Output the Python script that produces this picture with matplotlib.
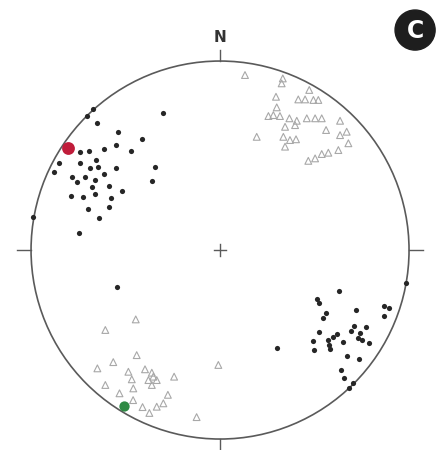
import numpy as np
import matplotlib.pyplot as plt
from matplotlib.patches import Circle

# projected positions on the net (unit radius), lower hemisphere
poles_x = [-0.705, -0.670, -0.303, -0.649, -0.541, -0.411, -0.612, -0.552, -0.471, -0.741,
           -0.693, -0.656, -0.852, -0.741, -0.688, -0.644, -0.552, -0.877, -0.344, -0.785,
           -0.714, -0.661, -0.612, -0.758, -0.679, -0.587, -0.517, -0.360, -0.790, -0.723,
           -0.661, -0.577, -0.697, -0.587, -0.640, -0.746, -0.989, -0.547,
           0.630, 0.512, 0.525, 0.720, 0.868, 0.896, 0.868, 0.561, 0.547, 0.709,
           0.692, 0.772, 0.525, 0.617, 0.599, 0.741, 0.729, 0.750, 0.490, 0.573,
           0.578, 0.649, 0.790, 0.499, 0.582, 0.670, 0.735, 0.640, 0.658, 0.705,
           0.683, 0.984, 0.300]
poles_y = [0.711, 0.744, 0.723, 0.674, 0.624, 0.586, 0.533, 0.556, 0.522, 0.517,
           0.524, 0.476, 0.459, 0.459, 0.432, 0.441, 0.432, 0.414, 0.438, 0.385,
           0.385, 0.370, 0.401, 0.361, 0.332, 0.340, 0.312, 0.365, 0.287, 0.282,
           0.295, 0.274, 0.215, 0.226, 0.171, 0.092, 0.175, -0.197,
           -0.217, -0.261, -0.279, -0.317, -0.296, -0.308, -0.349, -0.335, -0.361, -0.402,
           -0.429, -0.406, -0.432, -0.446, -0.459, -0.438, -0.467, -0.476, -0.481, -0.476,
           -0.503, -0.485, -0.490, -0.529, -0.525, -0.561, -0.577, -0.635, -0.679, -0.705,
           -0.732, -0.176, -0.520]

lin_x = [0.132, 0.194, 0.332, 0.326, 0.472, 0.296, 0.414, 0.450, 0.494, 0.520,
         0.300, 0.256, 0.282, 0.317, 0.367, 0.406, 0.459, 0.503, 0.538, 0.635,
         0.344, 0.397, 0.561, 0.670, 0.635, 0.335, 0.370, 0.402, 0.344, 0.679,
         0.626, 0.467, 0.503, 0.538, 0.573,
         -0.446, -0.607, -0.441, -0.565, -0.649, -0.009, -0.485, -0.467, -0.397, -0.361,
         -0.353, -0.335, -0.379, -0.361, -0.243, -0.607, -0.459, -0.532, -0.276, -0.460,
         -0.300, -0.335, -0.410, -0.374, -0.124]
lin_y = [0.926, 0.599, 0.908, 0.882, 0.847, 0.811, 0.797, 0.797, 0.794, 0.794,
         0.755, 0.709, 0.714, 0.709, 0.697, 0.684, 0.697, 0.697, 0.697, 0.684,
         0.652, 0.661, 0.635, 0.626, 0.608, 0.599, 0.582, 0.586, 0.547, 0.565,
         0.529, 0.472, 0.485, 0.508, 0.515,
         -0.367, -0.423, -0.556, -0.593, -0.626, -0.608, -0.644, -0.684, -0.631, -0.649,
         -0.670, -0.688, -0.688, -0.714, -0.670, -0.714, -0.732, -0.758, -0.766, -0.794,
         -0.811, -0.829, -0.831, -0.862, -0.884]

mean_red = (-0.803, 0.541)
mean_green = (-0.508, -0.825)

fig = plt.figure(figsize=(4.45, 4.5), dpi=100)
ax = fig.add_axes([0, 0, 1, 1])
ax.set_xlim(-1.164, 1.190)
ax.set_ylim(-1.058, 1.323)
ax.set_aspect('equal')
ax.axis('off')

net_col = '#5a5a5a'
ax.add_patch(Circle((0, 0), 1.0, fill=False, ec=net_col, lw=1.2, zorder=1))
# N/E/S/W ticks and centre cross
ax.plot([0, 0], [1.0, 1.06], color=net_col, lw=1.0)
ax.plot([0, 0], [-1.0, -1.07], color=net_col, lw=1.0)
ax.plot([-1.0, -1.075], [0, 0], color=net_col, lw=1.0)
ax.plot([1.0, 1.075], [0, 0], color=net_col, lw=1.0)
ax.plot([-0.032, 0.032], [0, 0], color=net_col, lw=1.0)
ax.plot([0, 0], [-0.032, 0.032], color=net_col, lw=1.0)
ax.text(0, 1.125, 'N', ha='center', va='center', fontsize=11, fontweight='bold', color='#333333')

ax.scatter(lin_x, lin_y, marker='^', s=24, facecolors='none', edgecolors='#a8a8a8',
           linewidths=0.8, zorder=2)
ax.scatter(poles_x, poles_y, marker='o', s=14, color='#262626', linewidths=0, zorder=3)
ax.scatter(*mean_red, s=85, color='#c01c3a', linewidths=0, zorder=4)
ax.scatter(*mean_green, s=55, color='#2f8a45', linewidths=0, zorder=4)

# panel badge
ax.add_patch(Circle((1.032, 1.164), 0.106, color='#1e1e1e', zorder=5))
ax.text(1.032, 1.160, 'C', ha='center', va='center', fontsize=17, fontweight='bold',
        color='white', zorder=6)

fig.savefig('out.png', dpi=100)
